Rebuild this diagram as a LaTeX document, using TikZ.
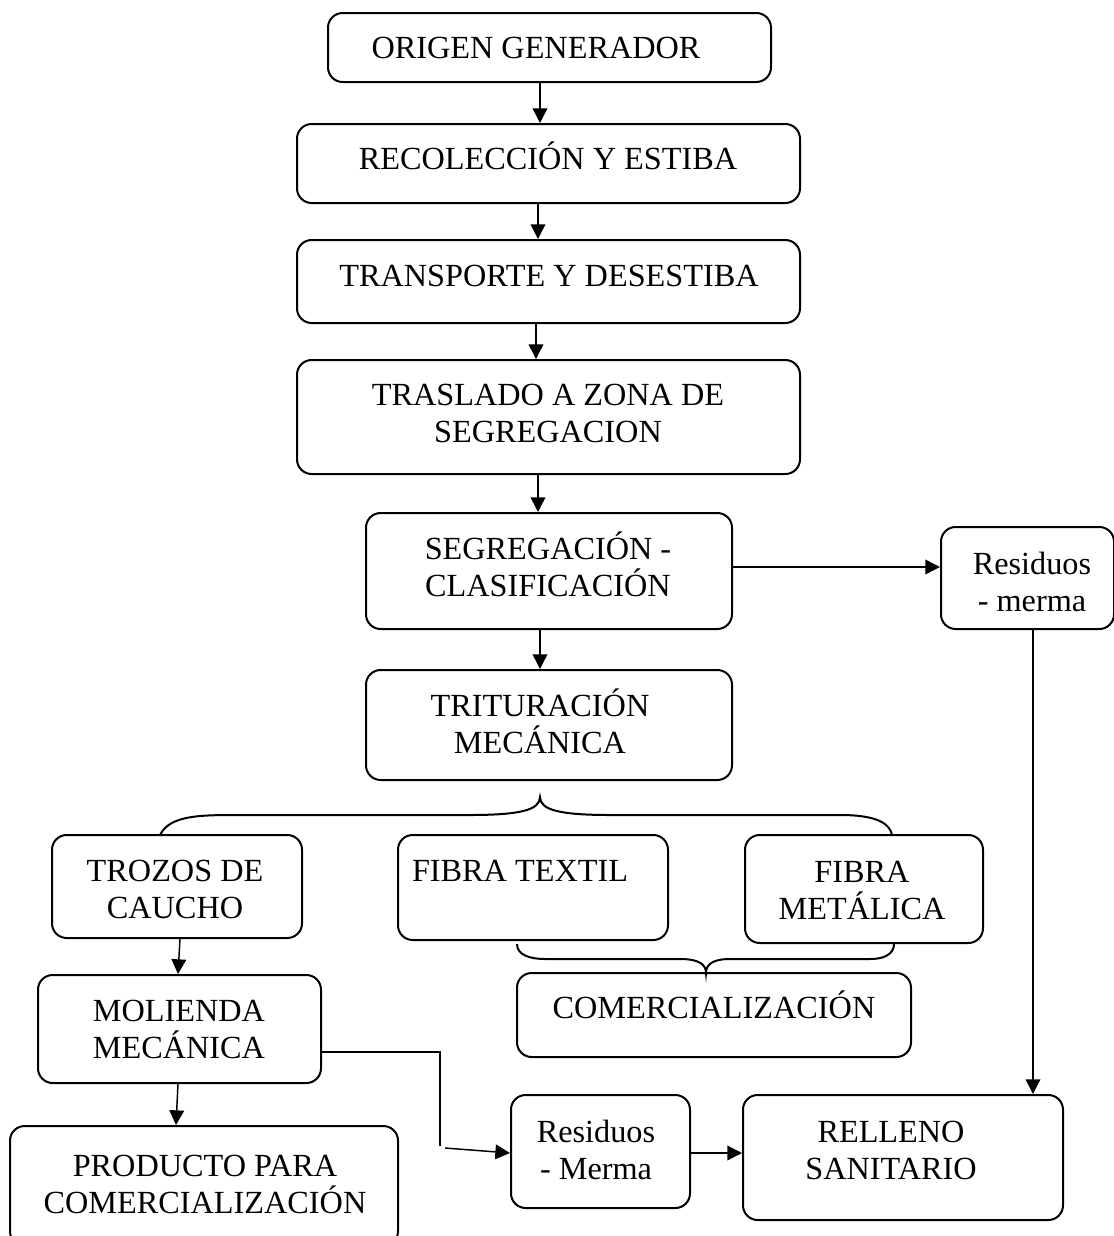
\documentclass[tikz,border=0pt]{standalone}
\usepackage{fontspec}
\setmainfont{Liberation Serif}
\usetikzlibrary{fit,arrows.meta}
\begin{document}
\begin{tikzpicture}[x=0.75pt,y=-0.75pt,
  box/.style={draw,line width=1.5pt,rounded corners=11pt,inner sep=0pt},
  txt/.style={inner sep=0pt,font=\fontsize{24.2}{27.5}\selectfont,align=center,anchor=base},
  arr/.style={line width=1.1pt,-{Triangle[length=11pt,width=11pt]}},
  ln/.style={line width=1.1pt},
  brace/.style={line width=1.5pt}]
\useasboundingbox (0,0) rectangle (1114,1236);
% boxes
\node[box,fit={(328,13) (771,82)}] (b1) {};
\node[box,fit={(297,124) (800,203)}] (b2) {};
\node[box,fit={(297,240) (800,323)}] (b3) {};
\node[box,fit={(297,360) (800,474)}] (b4) {};
\node[box,fit={(366,513) (732,629)}] (b5) {};
\node[box,fit={(941,527) (1114,629)}] (b6) {};
\node[box,fit={(366,670) (732,780)}] (b7) {};
\node[box,fit={(52,835) (302,938)}] (b8) {};
\node[box,fit={(398,835) (668,940)}] (b9) {};
\node[box,fit={(745,835) (983,943)}] (b10) {};
\node[box,fit={(517,973) (911,1057)}] (b11) {};
\node[box,fit={(38,975) (321,1083)}] (b12) {};
\node[box,fit={(10,1126) (398,1246)}] (b13) {};
\node[box,fit={(511,1095) (690,1208)}] (b14) {};
\node[box,fit={(743,1095) (1063,1220)}] (b15) {};
% texts (anchor = baseline of last line)
\node[txt] (t1) at (536,58) {ORIGEN GENERADOR};
\node[txt] (t2) at (548,169) {RECOLECCIÓN Y ESTIBA};
\node[txt] (t3) at (549,286) {TRANSPORTE Y DESESTIBA};
\node[txt] (t4) at (548,442) {TRASLADO A ZONA DE\\SEGREGACION};
\node[txt] (t5) at (548,596) {SEGREGACIÓN -\\CLASIFICACIÓN};
\node[txt] (t6) at (1032,611) {Residuos\\- merma};
\node[txt] (t7) at (540,753) {TRITURACIÓN\\MECÁNICA};
\node[txt] (t8) at (175,918) {TROZOS DE\\CAUCHO};
\node[txt] (t9) at (520,881) {FIBRA TEXTIL};
\node[txt] (t10) at (862,919) {FIBRA\\METÁLICA};
\node[txt] (t11) at (714,1018) {COMERCIALIZACIÓN};
\node[txt] (t12) at (179,1058) {MOLIENDA\\MECÁNICA};
\node[txt] (t13) at (205,1213) {PRODUCTO PARA\\COMERCIALIZACIÓN};
\node[txt] (t14) at (596,1179) {Residuos\\- Merma};
\node[txt] (t15) at (891,1179) {RELLENO\\SANITARIO};
% connectors
\draw[arr] (540,0 |- b1.south) -- (540,0 |- b2.north);
\draw[arr] (538,0 |- b2.south) -- (538,0 |- b3.north);
\draw[arr] (536,0 |- b3.south) -- (536,0 |- b4.north);
\draw[arr] (538,0 |- b4.south) -- (538,0 |- b5.north);
\draw[arr] (b5.east |- 0,567) -- (b6.west |- 0,567);
\draw[arr] (540,0 |- b5.south) -- (540,0 |- b7.north);
\draw[arr] (180,0 |- b8.south) -- (178,0 |- b12.north);
\draw[arr] (178,0 |- b12.south) -- (176,0 |- b13.north);
\draw[ln] (b12.east |- 0,1052) -- (440,1052) -- (440,1146);
\coordinate (c1) at (445,1148);
\draw[arr] (c1) -- (b14.west |- 0,1153);
\draw[arr] (b14.east |- 0,1153) -- (b15.west |- 0,1153);
\draw[arr] (1033,0 |- b6.south) -- (1033,0 |- b15.north);
% braces
\draw[brace] (160,835) .. controls (170,815) and (200,815) .. (240,815) -- (470,815)
  .. controls (520,815) and (540,810) .. (540,797)
  .. controls (540,810) and (560,815) .. (610,815) -- (840,815)
  .. controls (880,815) and (890,825) .. (892,835);
\draw[brace] (517,944) .. controls (517,955) and (530,959) .. (545,959) -- (680,959)
  .. controls (700,959) and (706,965) .. (706,973)
  .. controls (706,965) and (712,959) .. (730,959) -- (870,959)
  .. controls (890,959) and (894,950) .. (894,944);
\end{tikzpicture}
\end{document}
